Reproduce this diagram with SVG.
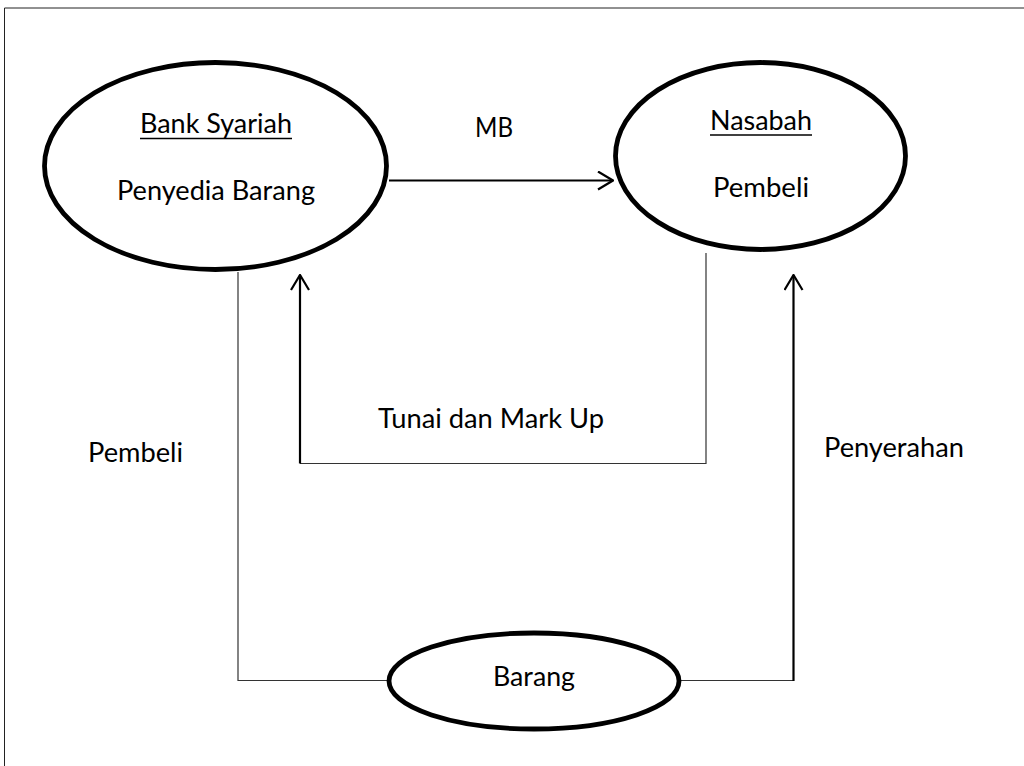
<svg xmlns="http://www.w3.org/2000/svg" width="1024" height="766" viewBox="0 0 1024 766">
<defs>
<style>
.node{fill:#fff;stroke:#000;stroke-width:4.8}
.t{font-family:Lato,"Liberation Sans",sans-serif;font-size:26px;fill:#000;text-anchor:middle}
.u{stroke:#000;stroke-width:1.5}
.thin{fill:none;stroke:#333;stroke-width:1.2}
.thick{fill:none;stroke:#000;stroke-width:2.2}
</style>
<marker id="arr" viewBox="0 0 20 20" refX="19" refY="10" markerWidth="20" markerHeight="20" markerUnits="userSpaceOnUse" orient="auto">
<path d="M4,1 L19,10 L4,19" fill="none" stroke="#000" stroke-width="2.2"/>
</marker>
</defs>
<rect width="1024" height="766" fill="#fff"/>
<path d="M4.5,766 V8 H1024" fill="none" stroke="#222" stroke-width="1"/>
<g id="connectors">
<line class="thick" x1="389" y1="180.5" x2="613" y2="180.5" marker-end="url(#arr)"/>
<polyline class="thin" points="238,272 238,680.5 387,680.5"/>
<polyline class="thin" points="706,253 706,463.5 300,463.5"/>
<line class="thick" x1="300" y1="463.5" x2="300" y2="275" marker-end="url(#arr)"/>
<polyline class="thin" points="681,680.5 793.5,680.5"/>
<line class="thick" x1="793.5" y1="681" x2="793.5" y2="275" marker-end="url(#arr)"/>
<text class="t" x="494" y="137" textLength="38" lengthAdjust="spacingAndGlyphs">MB</text>
<text class="t" x="491" y="428" textLength="226" lengthAdjust="spacingAndGlyphs">Tunai dan Mark Up</text>
<text class="t" x="135.5" y="462" textLength="95" lengthAdjust="spacingAndGlyphs">Pembeli</text>
<text class="t" x="894" y="457" textLength="140" lengthAdjust="spacingAndGlyphs">Penyerahan</text>
</g>
<g id="bank">
<ellipse class="node" cx="215.5" cy="166" rx="171" ry="103.5"/>
<text class="t" x="216" y="133" textLength="152" lengthAdjust="spacingAndGlyphs">Bank Syariah</text>
<line class="u" x1="140" y1="138.5" x2="292" y2="138.5"/>
<text class="t" x="216" y="200" textLength="198" lengthAdjust="spacingAndGlyphs">Penyedia Barang</text>
</g>
<g id="nasabah">
<ellipse class="node" cx="760.5" cy="156" rx="145" ry="93.5"/>
<text class="t" x="761" y="130" textLength="102" lengthAdjust="spacingAndGlyphs">Nasabah</text>
<line class="u" x1="710" y1="135" x2="812" y2="135"/>
<text class="t" x="761" y="197" textLength="96" lengthAdjust="spacingAndGlyphs">Pembeli</text>
</g>
<g id="barang">
<ellipse class="node" cx="534" cy="681" rx="145" ry="48"/>
<text class="t" x="534" y="686" textLength="82" lengthAdjust="spacingAndGlyphs">Barang</text>
</g>
</svg>
